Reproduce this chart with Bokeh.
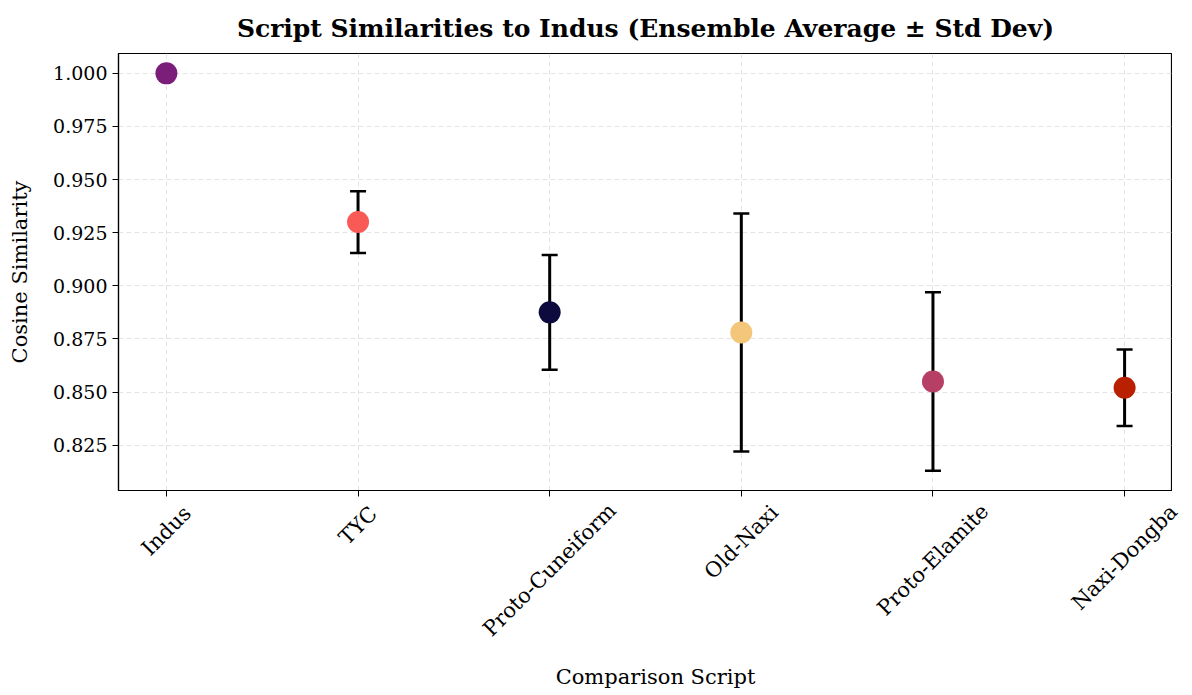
import math
from bokeh.plotting import figure
from bokeh.layouts import column
from bokeh.models import FixedTicker, Range1d, PrintfTickFormatter
from bokeh.core.properties import value
from bokeh.embed import file_html
from bokeh.resources import INLINE

scripts = ["Indus", "TYC", "Proto-Cuneiform", "Old-Naxi", "Proto-Elamite", "Naxi-Dongba"]
means = [1.000, 0.930, 0.8875, 0.878, 0.855, 0.852]
stds = [0.000, 0.0145, 0.027, 0.056, 0.042, 0.018]
colors = ["#7B1E7A", "#FA5A55", "#0D0A3E", "#F3C67A", "#B73F65", "#B82000"]
y_ticks = [0.825, 0.850, 0.875, 0.900, 0.925, 0.950, 0.975, 1.000]

FONT = "DejaVu Serif"
XFS = 21  # category label font size (px)

# approximate DejaVu Serif advance widths (em), used only to centre rotated labels
CW = {"-": .338, "C": .715, "D": .802, "E": .730, "I": .472, "N": .838, "O": .800,
      "P": .688, "T": .730, "Y": .730, "a": .596, "b": .640, "c": .560, "d": .640,
      "e": .592, "f": .370, "g": .640, "i": .320, "l": .320, "m": .948, "n": .644,
      "o": .602, "r": .478, "s": .513, "t": .402, "u": .644, "x": .645}


def text_len(s, fs):
    return 0.95 * sum(CW.get(ch, 0.6) for ch in s) * fs


xs = list(range(len(scripts)))
upper = [m + s for m, s in zip(means, stds)]
lower = [m - s for m, s in zip(means, stds)]
lo = min(lower)
hi = max(upper)
pad = (hi - lo) * 0.05

FW, FL, FR = 1054, 118, 20   # frame width, left / right margins
x0, x1 = -0.25, len(scripts) - 0.75
x_range = Range1d(x0, x1)
ux = (x1 - x0) / FW          # data units per pixel along x

# ---------------- main plot ----------------
p = figure(frame_width=FW, frame_height=437, output_backend="svg", toolbar_location=None,
           x_range=x_range, y_range=Range1d(lo - pad, hi + pad),
           min_border_left=FL, min_border_right=0, min_border_top=53, min_border_bottom=12)

p.title.text = "Script Similarities to Indus (Ensemble Average ± Std Dev)"
p.title.align = "center"
p.title.text_font = FONT
p.title.text_font_size = "25px"
p.title.text_font_style = "bold"
p.title.text_color = "black"
p.title.standoff = 21

p.segment(x0=xs, y0=lower, x1=xs, y1=upper, line_color="black", line_width=3)
p.scatter(x=xs, y=upper, marker="dash", size=16, line_color="black", line_width=2.5)
p.scatter(x=xs, y=lower, marker="dash", size=16, line_color="black", line_width=2.5)
p.scatter(x=xs, y=means, size=22, fill_color=colors, line_color=None)

p.xaxis.ticker = FixedTicker(ticks=xs)
p.xaxis.major_label_overrides = {i: "" for i in xs}
p.xaxis.major_label_text_font_size = "1px"
p.xaxis.major_label_text_color = None
p.xaxis.major_label_standoff = 0
p.yaxis.ticker = FixedTicker(ticks=y_ticks)
p.yaxis.formatter = PrintfTickFormatter(format="%.3f")
p.yaxis.axis_label = "Cosine Similarity"
p.yaxis.axis_label_text_font = FONT
p.yaxis.axis_label_text_font_size = "21px"
p.yaxis.axis_label_text_font_style = "normal"
p.yaxis.axis_label_text_color = "black"
p.yaxis.axis_label_standoff = 18
p.yaxis.major_label_text_font = FONT
p.yaxis.major_label_text_font_size = "19px"
p.yaxis.major_label_text_color = "black"
for ax in (p.xaxis[0], p.yaxis[0]):
    ax.axis_line_color = "black"
    ax.axis_line_width = 1.2
    ax.major_tick_line_color = "black"
    ax.major_tick_in = 0
    ax.major_tick_out = 6
    ax.minor_tick_line_color = None

p.outline_line_color = "black"
p.outline_line_width = 1.2
p.grid.grid_line_color = "#d9d9d9"
p.grid.grid_line_dash = "5 3"
p.grid.grid_line_alpha = 0.7
p.background_fill_color = "white"
p.border_fill_color = "white"

# ---------------- category labels (rotated 45°, centred on ticks) ----------------
# label strip: same left edge and x scale as the main plot, extended to the page's right edge
LH = 150
p2 = figure(frame_width=FW + FR, frame_height=LH, output_backend="svg", toolbar_location=None,
            x_range=Range1d(x0, x1 + FR * ux), y_range=Range1d(-LH, 0),
            min_border_left=FL, min_border_right=0, min_border_top=0, min_border_bottom=0)
h = 1.05 * XFS
label_y = [-(text_len(s, XFS) + h) / (2 * math.sqrt(2)) for s in scripts]
p2.text(x=xs, y=label_y, text=scripts, angle=math.pi / 4, text_align="center",
        text_baseline="middle", text_font=value(FONT), text_font_size=f"{XFS}px",
        text_color="black")
p2.yaxis.visible = False
p2.grid.visible = False
p2.outline_line_color = None
p2.xaxis.ticker = FixedTicker(ticks=[])
p2.xaxis.axis_line_color = None
p2.xaxis.major_tick_line_color = None
p2.xaxis.minor_tick_line_color = None
p2.xaxis.major_label_text_color = None
p2.xaxis.major_label_text_font_size = "1px"
p2.xaxis.major_label_standoff = 0
p2.xaxis.axis_label = "Comparison Script"
p2.xaxis.axis_label_text_font = FONT
p2.xaxis.axis_label_text_font_size = "21px"
p2.xaxis.axis_label_text_font_style = "normal"
p2.xaxis.axis_label_text_color = "black"
p2.xaxis.axis_label_standoff = 12
p2.background_fill_color = "white"
p2.border_fill_color = "white"

layout = column(p, p2, spacing=0)
open("out.html", "w").write(file_html(layout, INLINE))
